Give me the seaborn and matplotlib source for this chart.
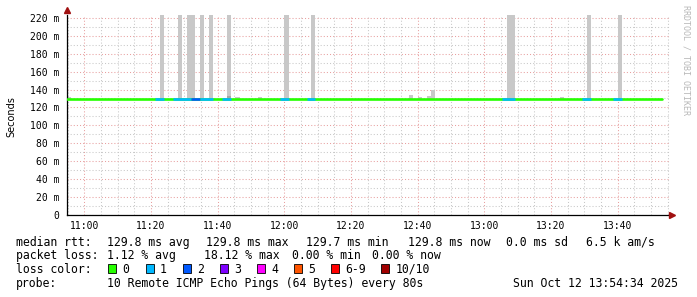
import matplotlib
matplotlib.use("Agg")
import matplotlib.pyplot as plt
import matplotlib.dates as mdates
import matplotlib.ticker as mticker
from matplotlib.patches import Rectangle
import seaborn as sns
import pandas as pd
import numpy as np

DAY = "2025-10-12 "
STEP_SECONDS = 80

# ---- data ----
median_times = ["10:54:40", "13:53:20"]
median_values = [129.8, 129.8]

# loss periods drawn over the median line (number of lost pings out of 10)
loss_start = ["11:21:20", "11:26:40", "11:32:00", "11:34:40", "11:41:20",
              "11:58:40", "12:06:40", "13:05:20", "13:29:20", "13:38:40"]
loss_end = ["11:24:00", "11:32:00", "11:34:40", "11:38:40", "11:44:00",
            "12:01:20", "12:09:20", "13:09:20", "13:32:00", "13:41:20"]
loss_count = [1, 1, 2, 1, 1, 1, 1, 1, 1, 1]

# smoke (rtt spread) per probe step
smoke_start = ["10:54:40", "11:22:40", "11:28:00", "11:30:40", "11:34:40",
               "11:37:20", "11:42:40", "11:45:20", "11:52:00", "12:00:00",
               "12:08:00", "12:37:20", "12:40:00", "12:42:40", "12:44:00",
               "13:06:40", "13:22:40", "13:29:20", "13:30:40", "13:40:00"]
smoke_steps = [1, 1, 1, 2, 1, 1, 1, 1, 1, 1, 1, 1, 1, 1, 1, 2, 1, 1, 1, 1]
smoke_low = [129.4] * 20
smoke_high = [132.0, 260.0, 260.0, 260.0, 260.0, 260.0, 260.0, 132.0, 132.0,
              260.0, 260.0, 134.0, 131.5, 133.0, 140.0, 260.0, 132.0, 131.0,
              260.0, 260.0]
# denser core of the smoke
core_start = ["11:42:40"]
core_low = [129.4]
core_high = [133.0]

loss_labels = ["0", "1", "2", "3", "4", "5", "6-9", "10/10"]
loss_colors = ["#26ff00", "#00b8ff", "#0059ff", "#7e00ff", "#ff00ff",
               "#ff5500", "#ff0000", "#a10000"]

stats_rtt = ["129.8 ms avg", "129.8 ms max", "129.7 ms min",
             "129.8 ms now", "0.0 ms sd", "6.5 k am/s"]
stats_loss = ["1.12 % avg", "18.12 % max", "0.00 % min", "0.00 % now"]
probe_text = "10 Remote ICMP Echo Pings (64 Bytes) every 80s"
date_text = "Sun Oct 12 13:54:34 2025"

y_major = list(range(0, 221, 20))


def tnum(s):
    return mdates.date2num(pd.Timestamp(DAY + s))


step_days = STEP_SECONDS / 86400.0

# ---- figure ----
sns.set_theme(style="white")
plt.rcParams["font.family"] = ["DejaVu Sans Mono", "DejaVu Sans"]

W, H = 697, 297
fig = plt.figure(figsize=(W / 100, H / 100), dpi=100)
fig.patch.set_facecolor("white")

ax_l, ax_r, ax_t, ax_b = 67, 670, 14.7, 215
ax = fig.add_axes([ax_l / W, (H - ax_b) / H, (ax_r - ax_l) / W, (ax_b - ax_t) / H])
ax.set_facecolor("white")

# smoke bars
sx = [tnum(s) for s in smoke_start]
ax.bar(sx, np.array(smoke_high) - np.array(smoke_low), bottom=smoke_low,
       width=np.array(smoke_steps) * step_days, align="edge",
       color="#c8c8c8", linewidth=0, zorder=2)
cx = [tnum(s) for s in core_start]
ax.bar(cx, np.array(core_high) - np.array(core_low), bottom=core_low,
       width=step_days, align="edge", color="#a8a8a8", linewidth=0, zorder=2.1)

# median line
mdf = pd.DataFrame({"t": [tnum(s) for s in median_times], "rtt": median_values})
sns.lineplot(data=mdf, x="t", y="rtt", color=loss_colors[0], linewidth=1.9,
             ax=ax, zorder=3)
for s, e, c in zip(loss_start, loss_end, loss_count):
    col = loss_colors[min(c, 6) if c < 10 else 7]
    ax.hlines(median_values[0], tnum(s), tnum(e), colors=col, linewidth=1.9,
              zorder=4)

# axes limits
ax.set_xlim(tnum("10:54:49"), tnum("13:55:43"))
ax.set_ylim(0, 223.5)
ax.set_xlabel("")
ax.set_ylabel("")

ax.xaxis.set_major_locator(mdates.MinuteLocator(byminute=[0, 20, 40]))
ax.xaxis.set_minor_locator(mdates.MinuteLocator(byminute=range(0, 60, 5)))
ax.xaxis.set_major_formatter(mdates.DateFormatter("%H:%M"))
ax.yaxis.set_major_locator(mticker.FixedLocator(y_major))
ax.yaxis.set_minor_locator(mticker.MultipleLocator(10))
ax.yaxis.set_major_formatter(mticker.FuncFormatter(
    lambda v, p: "0" if v == 0 else f"{int(round(v))} m"))

ax.set_axisbelow(True)
ax.grid(which="major", color="#e8a0a0", linestyle=(0, (1, 2)), linewidth=0.75)
ax.grid(which="minor", color="#c8c8c8", linestyle=(0, (1, 2)), linewidth=0.75)

for sp in ["top", "right"]:
    ax.spines[sp].set_visible(False)
for sp in ["left", "bottom"]:
    ax.spines[sp].set_color("black")
    ax.spines[sp].set_linewidth(0.9)

ax.tick_params(axis="y", which="major", length=3, width=0.8, direction="out",
               pad=2.5, labelsize=7, colors="black")
ax.tick_params(axis="y", which="minor", length=0)
ax.tick_params(axis="x", which="both", length=0, pad=4, labelsize=7,
               colors="black")
for lab in ax.get_xticklabels() + ax.get_yticklabels():
    lab.set_fontfamily("DejaVu Sans Mono")

# axis arrows
ax.plot([0], [1.022], marker="^", color="#a01010", markersize=3.8,
        transform=ax.transAxes, clip_on=False, zorder=6)
ax.plot([1.004], [0], marker=">", color="#a01010", markersize=3.8,
        transform=ax.transAxes, clip_on=False, zorder=6)


def fx(x):
    return x / W


def fy(y):
    return 1 - y / H


# y label
fig.text(fx(11), fy(117), "Seconds", rotation=90, ha="center", va="center",
         fontsize=7, family="DejaVu Sans", color="black")

# watermark
fig.text(fx(686), fy(5), "RRDTOOL / TOBI OETIKER", rotation=270, ha="center",
         va="top", fontsize=6, family="DejaVu Sans Mono", color="#b8b8b8")

# legend
FS = 8.3
rows_y = [245.7, 259.3, 273.0, 286.7]
mono = dict(fontsize=FS, family="DejaVu Sans Mono", color="black",
            va="baseline", ha="left")
fig.text(fx(16), fy(rows_y[0]), "median rtt:", **mono)
for s, x in zip(stats_rtt, [107.3, 206.5, 306, 407.7, 506, 586]):
    fig.text(fx(x), fy(rows_y[0]), s, **mono)
fig.text(fx(16), fy(rows_y[1]), "packet loss:", **mono)
for s, x in zip(stats_loss, [107.3, 204, 292, 372.3]):
    fig.text(fx(x), fy(rows_y[1]), s, **mono)
fig.text(fx(16), fy(rows_y[2]), "loss color:", **mono)
for lab, col, x in zip(loss_labels, loss_colors,
                       [108.3, 145.7, 182.7, 219.7, 256.7, 293.7, 330.7, 381]):
    fig.patches.append(Rectangle((fx(x), fy(273.3)), 8 / W, 9 / H,
                                 transform=fig.transFigure, facecolor=col,
                                 edgecolor="black", linewidth=0.6))
    fig.text(fx(x + 14.3), fy(rows_y[2]), lab, **mono)
fig.text(fx(16), fy(rows_y[3]), "probe:", **mono)
fig.text(fx(107.3), fy(rows_y[3]), probe_text, **mono)
fig.text(fx(513.3), fy(rows_y[3]), date_text, **mono)

fig.savefig("out.png", dpi=100, facecolor="white")
